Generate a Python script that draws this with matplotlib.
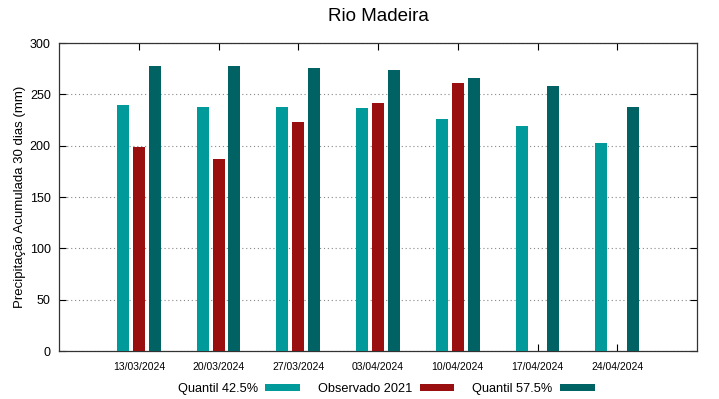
import numpy as np
import matplotlib.pyplot as plt
from matplotlib.transforms import ScaledTranslation

plt.rcParams['font.family'] = ['Liberation Sans', 'DejaVu Sans']

dates = ['13/03/2024', '20/03/2024', '27/03/2024', '03/04/2024',
         '10/04/2024', '17/04/2024', '24/04/2024']
q425 = [240, 237.5, 238, 236.5, 225.5, 219, 202.5]
obs2021 = [198.5, 187, 223.5, 242, 261.5, np.nan, np.nan]
q575 = [278, 278, 275.5, 274, 265.5, 258.5, 237.5]

c_q425 = '#009a9a'
c_obs = '#990e0e'
c_q575 = '#006262'

x = np.arange(len(dates))
w = 0.15
off = 0.2

fig = plt.figure(figsize=(7.19, 3.99), dpi=100)
ax = fig.add_axes([0.0821, 0.1203, 0.8873, 0.7719])

ax.bar(x - off, q425, w, color=c_q425, label='Quantil 42.5%', zorder=3)
ax.bar(x, obs2021, w, color=c_obs, label='Observado 2021', zorder=3)
ax.bar(x + off, q575, w, color=c_q575, label='Quantil 57.5%', zorder=3)

ax.set_xlim(-1, 7)
ax.set_ylim(0, 300)
ax.set_yticks(np.arange(0, 301, 50))
ax.set_xticks(x)
ax.set_xticklabels(dates, fontsize=7.5)
for lbl in ax.get_xticklabels():
    lbl.set_transform(lbl.get_transform() + ScaledTranslation(7 / 100, 0, fig.dpi_scale_trans))
ax.tick_params(axis='y', labelsize=9, direction='in', right=True, length=5, pad=6)
ax.tick_params(axis='x', direction='in', top=True, length=5, pad=8)
ax.grid(axis='y', color='#888888', linestyle=(0, (1, 2.5)), linewidth=0.8, zorder=0)
for s in ax.spines.values():
    s.set_color('#333333')
    s.set_linewidth(0.9)

ax.set_title('Rio Madeira', fontsize=13.5, pad=16)
ax.set_ylabel('Precipitação Acumulada 30 dias (mm)', fontsize=9.5, labelpad=3)

fig.legend(*ax.get_legend_handles_labels(), loc='center', bbox_to_anchor=(0.537, 0.025),
           ncol=3, frameon=False, markerfirst=False, fontsize=9.2,
           handlelength=2.7, handleheight=0.5, columnspacing=1.4, handletextpad=0.6,
           borderpad=0)

plt.savefig('out.png', dpi=100)
